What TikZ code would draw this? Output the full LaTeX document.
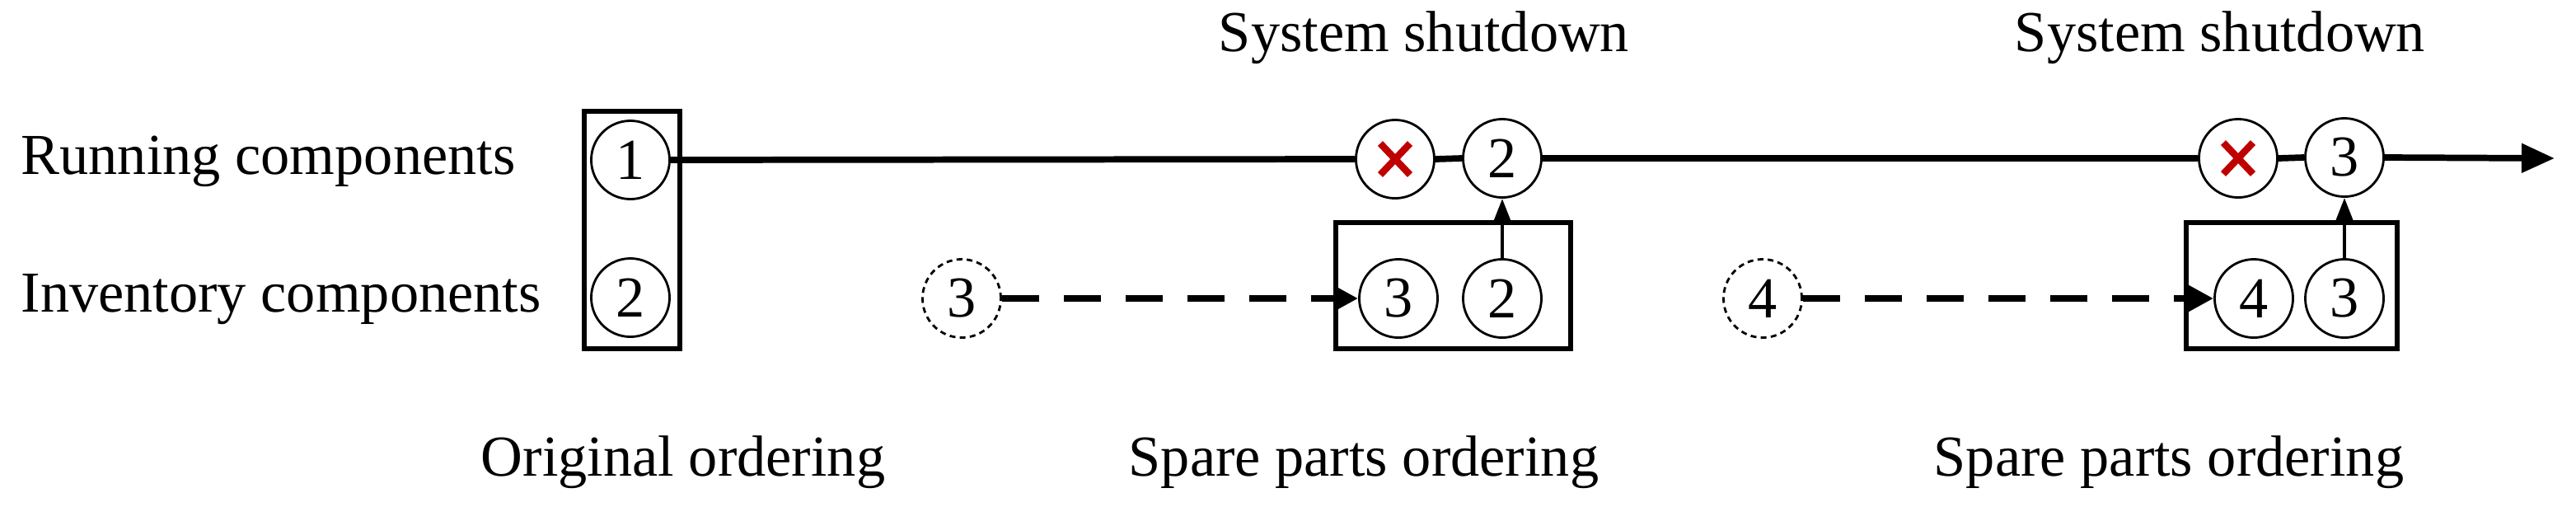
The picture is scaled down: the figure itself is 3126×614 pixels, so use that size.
\documentclass[tikz,border=0pt]{standalone}
\usepackage{fontspec}
\setmainfont{Liberation Serif}
\usetikzlibrary{arrows.meta}
\begin{document}
\begin{tikzpicture}[x=0.01cm,y=-0.01cm,
  lbl/.style={font=\fontsize{20}{24}\selectfont,inner sep=0pt},
  comp/.style={circle,draw,line width=0.8pt,fill=white,minimum size=0.95cm,inner sep=0pt,font=\fontsize{20}{24}\selectfont},
  ghost/.style={comp,dashed,dash pattern=on 2pt off 1.5pt},
  grp/.style={draw,line width=1.6pt},
  main/.style={line width=2.2pt,-{Triangle[length=0.4cm,width=0.34cm]}},
  up/.style={line width=1.3pt,-{Triangle[length=0.3cm,width=0.22cm]}},
  order/.style={line width=2.2pt,dash pattern=on 0.45cm off 0.3cm,-{Triangle[length=0.3cm,width=0.3cm]}},
  fail/.style={red!75!black,line width=2.4pt}]
\useasboundingbox (0,0) rectangle (3126,614);
% labels
\node[lbl,anchor=base west] (lrun) at (25,211) {Running components};
\node[lbl,anchor=base west] (linv) at (25,378) {Inventory components};
\node[lbl,anchor=base] (lss1) at (1728,62) {System shutdown};
\node[lbl,anchor=base] (lss2) at (2694,62) {System shutdown};
\node[lbl,anchor=base] (lor) at (829,577) {Original ordering};
\node[lbl,anchor=base] (lsp1) at (1655,577) {Spare parts ordering};
\node[lbl,anchor=base] (lsp2) at (2632,577) {Spare parts ordering};
% group boxes
\draw[grp] (709,135) rectangle (825,423);
\draw[grp] (1621,270) rectangle (1906,423);
\draw[grp] (2653,270) rectangle (2909,423);
% endpoint of timeline
\coordinate (tend) at (3100,192);
% circles
\node[comp] (r1) at (765,194) {1};
\node[comp] (i2) at (765,361) {2};
\node[comp] (f1) at (1693,193) {};
\node[comp] (r2) at (1823,192) {2};
\node[comp] (f2) at (2716,192) {};
\node[comp] (r3) at (2845,191) {3};
\node[ghost] (g3) at (1167,362) {3};
\node[comp] (a3) at (1697,362) {3};
\node[comp] (a2) at (1823,362) {2};
\node[ghost] (g4) at (2139,362) {4};
\node[comp] (b4) at (2735,362) {4};
\node[comp] (b3) at (2845,362) {3};
% timeline
\draw[line width=2.2pt] (r1.east) -- (f1.west);
\draw[line width=2.2pt] (f1.east) -- (r2.west);
\draw[line width=2.2pt] (r2.east) -- (f2.west);
\draw[line width=2.2pt] (f2.east) -- (r3.west);
\draw[main] (r3.east) -- (tend);
% failure marks
\draw[fail] ([shift={(-18,-19)}]f1.center) -- ([shift={(18,19)}]f1.center);
\draw[fail] ([shift={(18,-19)}]f1.center) -- ([shift={(-18,19)}]f1.center);
\draw[fail] ([shift={(-18,-19)}]f2.center) -- ([shift={(18,19)}]f2.center);
\draw[fail] ([shift={(18,-19)}]f2.center) -- ([shift={(-18,19)}]f2.center);
% replacements
\draw[up] (a2.north) -- (r2.south);
\draw[up] (b3.north) -- (r3.south);
% orders
\draw[order] (g3.east) -- (a3.west);
\draw[order] (g4.east) -- (b4.west);
\end{tikzpicture}
\end{document}
